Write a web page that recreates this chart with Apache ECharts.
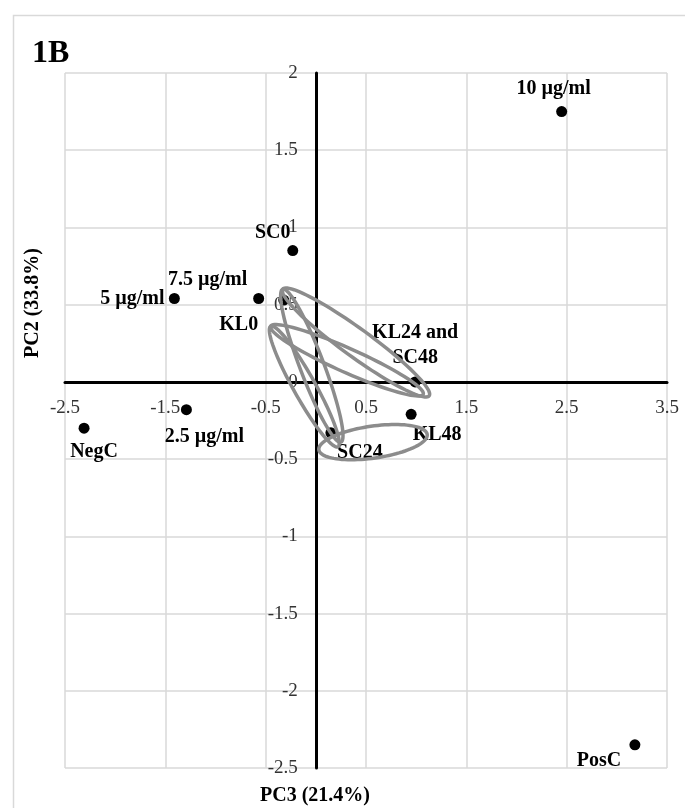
<!DOCTYPE html>
<html>
<head>
<meta charset="utf-8">
<script src="https://cdn.jsdelivr.net/npm/echarts@6/dist/echarts.min.js"></script>
<style>
    html, body { margin: 0; padding: 0; background: #fff; }
    #chart { width: 685px; height: 808px; }
</style>
</head>
<body>
<div id="chart"></div>
<script>
// PCA scores (PC3 on x, PC2 on y)
var pointNames = ["10 µg/ml", "SC0", "7.5 µg/ml", "5 µg/ml", "KL0", "NegC",
    "2.5 µg/ml", "SC24", "KL48", "KL24 and\nSC48", "PosC"];
var pc3 = [2.45, -0.23, -0.57, -1.41, -0.32, -2.31, -1.29, 0.15, 0.95, 0.99, 3.18];
var pc2 = [1.75, 0.85, 0.54, 0.54, 0.53, -0.30, -0.18, -0.33, -0.21, 0.00, -2.35];

// hand-drawn group ellipses: tip to tip, in PC3/PC2 units
var ellipseTips = [
    [-0.33, 0.60, 1.13, -0.09],
    [-0.45, 0.36, 1.07, -0.08],
    [-0.33, 0.60, 0.25, -0.39],
    [-0.45, 0.36, 0.22, -0.42],
    [0.03, -0.44, 1.11, -0.34]
];
var ellipseHalfWidth = [14, 12, 12, 11, 16];

// label offsets from the dot, pixels
var labelOffset = {
    "10 µg/ml": [-8, -23],
    "SC0": [-20, -18],
    "7.5 µg/ml": [-51, -19],
    "5 µg/ml": [-42, 0],
    "KL0": [-45, 25],
    "NegC": [10, 24],
    "2.5 µg/ml": [18, 27],
    "SC24": [29, 20],
    "KL48": [26, 21],
    "KL24 and\nSC48": [0, -37],
    "PosC": [-36, 16]
};

var serif = "'Liberation Serif', 'Times New Roman', serif";

var chart = echarts.init(document.getElementById("chart"));

function renderEllipse(params, api) {
    var p1 = api.coord([api.value(0), api.value(1)]);
    var p2 = api.coord([api.value(2), api.value(3)]);
    var hw = ellipseHalfWidth[params.dataIndex];
    var cx = (p1[0] + p2[0]) / 2, cy = (p1[1] + p2[1]) / 2;
    var dx = (p2[0] - p1[0]) / 2, dy = (p2[1] - p1[1]) / 2;
    var len = Math.sqrt(dx * dx + dy * dy);
    var nx = -dy / len * hw, ny = dx / len * hw;
    var pts = [];
    for (var i = 0; i < 96; i++) {
        var t = i / 96 * Math.PI * 2;
        pts.push([cx + dx * Math.cos(t) + nx * Math.sin(t), cy + dy * Math.cos(t) + ny * Math.sin(t)]);
    }
    return {
        type: "polygon",
        shape: { points: pts },
        style: { fill: "none", stroke: "#8c8c8c", lineWidth: 3.5 }
    };
}

chart.setOption({
    animation: false,
    backgroundColor: "#fff",
    grid: { left: 65, right: 18, top: 73, bottom: 40, containLabel: false },
    graphic: [
        {
            type: "rect",
            left: 11, top: 13,
            shape: { width: 700, height: 820 },
            style: { fill: "none", stroke: "#d9d9d9", lineWidth: 1.5 },
            z: -1
        },
        {
            type: "text", x: 32, y: 38,
            style: { text: "1B", font: "bold 32px " + serif, fill: "#000" }
        },
        {
            type: "text", x: 315, y: 796,
            style: { text: "PC3 (21.4%)", font: "bold 20px " + serif, fill: "#000",
                align: "center", verticalAlign: "middle" }
        },
        {
            type: "text", x: 33, y: 303, rotation: Math.PI / 2,
            style: { text: "PC2 (33.8%)", font: "bold 20px " + serif, fill: "#000",
                align: "center", verticalAlign: "middle" }
        }
    ],
    xAxis: {
        type: "value",
        position: "bottom",
        min: -2.5, max: 3.5, interval: 1,
        axisLine: { onZero: false, lineStyle: { color: "#000", width: 3 } },
        axisTick: { show: false },
        axisLabel: { color: "#333", fontFamily: serif, fontSize: 19, margin: 17 },
        splitLine: { lineStyle: { color: "#d9d9d9", width: 1.5 } }
    },
    yAxis: {
        type: "value",
        position: "left",
        min: -2.5, max: 2, interval: 0.5,
        axisLine: { onZero: false, lineStyle: { color: "#000", width: 3 } },
        axisTick: { show: false },
        axisLabel: { color: "#333", fontFamily: serif, fontSize: 19, margin: 18 },
        splitLine: { lineStyle: { color: "#d9d9d9", width: 1.5 } }
    },
    series: [
        {
            type: "scatter",
            symbolSize: 11,
            itemStyle: { color: "#000", opacity: 1 },
            data: pointNames.map(function (name, i) {
                return {
                    value: [pc3[i], pc2[i]],
                    name: name,
                    label: { offset: labelOffset[name] }
                };
            }),
            label: {
                show: true,
                position: "inside",
                formatter: "{b}",
                color: "#000",
                fontFamily: serif,
                fontWeight: "bold",
                fontSize: 20,
                lineHeight: 25,
                align: "center",
                verticalAlign: "middle"
            },
            z: 3
        },
        {
            type: "custom",
            renderItem: renderEllipse,
            encode: { x: [0, 2], y: [1, 3] },
            data: ellipseTips,
            z: 4,
            silent: true
        }
    ]
});

// move both axes (line + labels) so they cross at the origin
var origin = chart.convertToPixel({ gridIndex: 0 }, [0, 0]);
var lowLeft = chart.convertToPixel({ gridIndex: 0 }, [-2.5, -2.5]);
chart.setOption({
    xAxis: { offset: -(lowLeft[1] - origin[1]) },
    yAxis: { offset: -(origin[0] - lowLeft[0]) }
});
</script>
</body>
</html>
